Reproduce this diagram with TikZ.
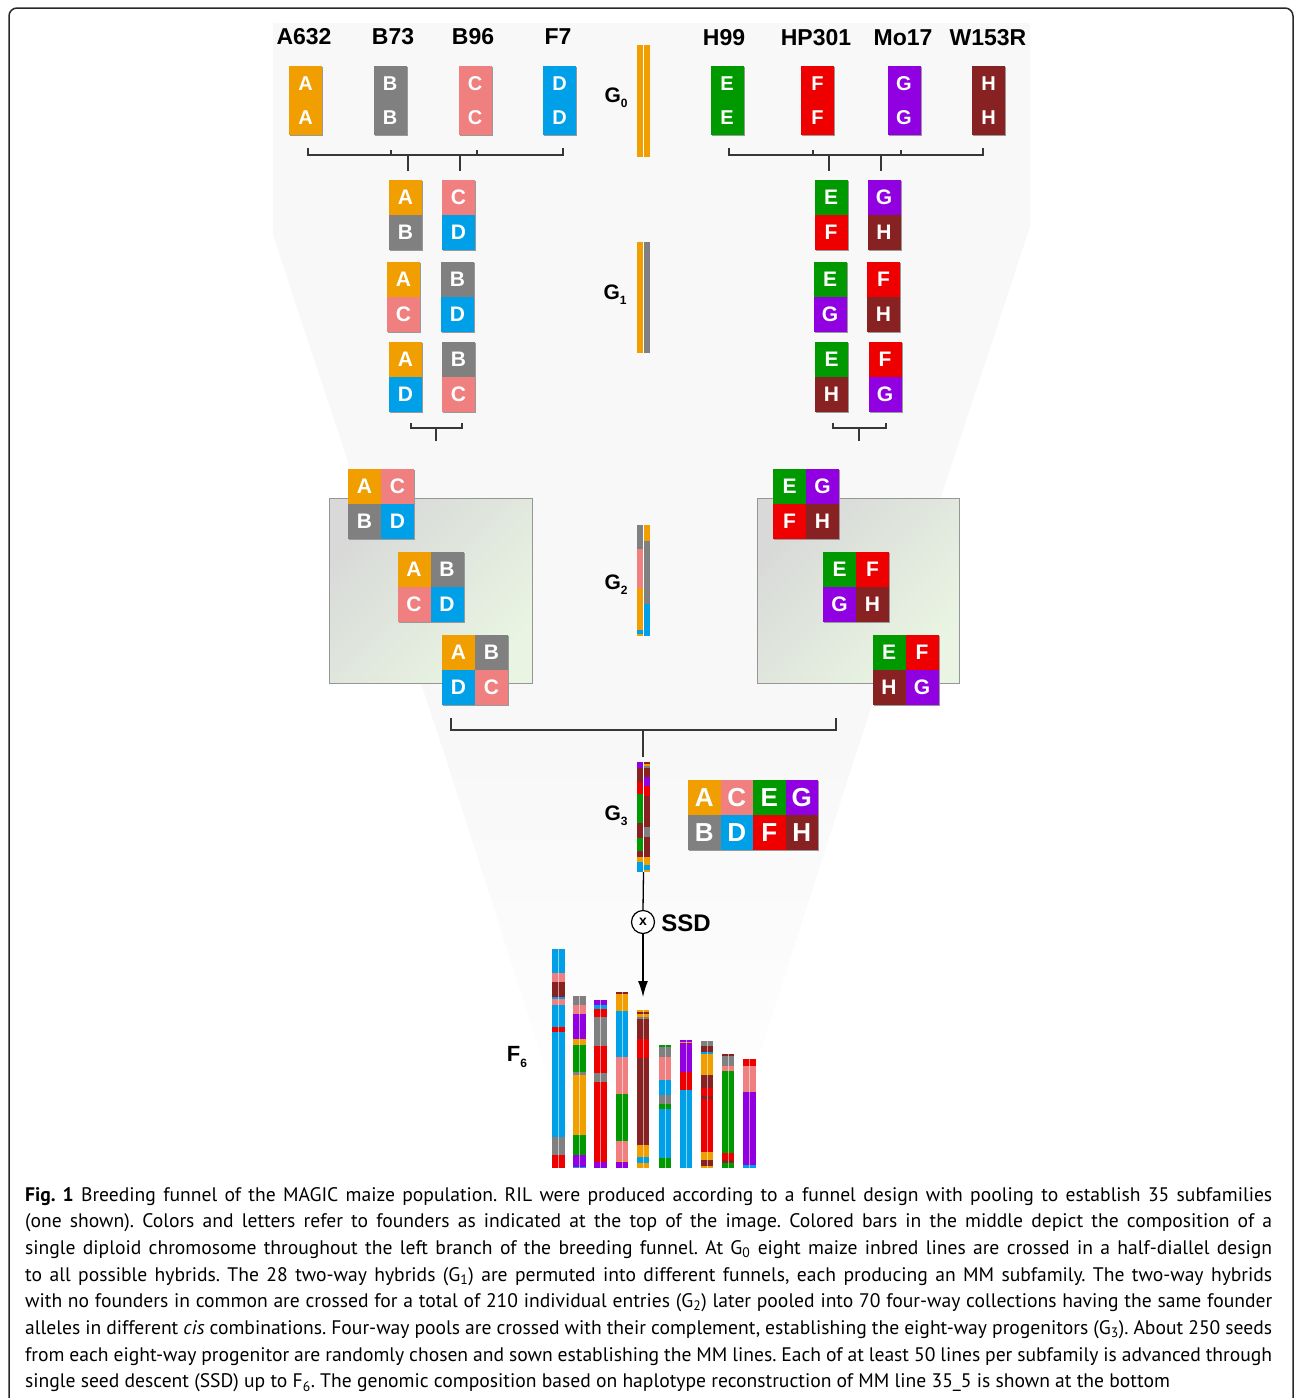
\documentclass[tikz,border=0pt]{standalone}
\usepackage{fontspec}
\usetikzlibrary{shadows,arrows.meta,calc}
\newfontfamily\arialf{Liberation Sans}
\newfontfamily\capf{PT Sans}
\definecolor{cA}{RGB}{240,158,0}
\definecolor{cB}{RGB}{128,128,128}
\definecolor{cC}{RGB}{240,128,128}
\definecolor{cD}{RGB}{0,160,233}
\definecolor{cE}{RGB}{0,153,0}
\definecolor{cF}{RGB}{238,0,0}
\definecolor{cG}{RGB}{145,0,224}
\definecolor{cH}{RGB}{136,34,34}
\definecolor{funnelc}{RGB}{248,248,248}
\definecolor{linec}{RGB}{55,55,55}
\definecolor{g2a}{RGB}{216,217,216}
\definecolor{g2b}{RGB}{233,245,226}
\definecolor{g2border}{RGB}{150,150,150}
\definecolor{framec}{RGB}{40,40,40}
\newcommand\chrom[3]{\foreach \ya/\yb/\cc in {#3} {\fill[\cc] (#1,\ya) rectangle (#2,\yb);}}
\newcommand\sepline[3]{\draw[white, line width=1.1pt] (#1,#2) -- (#1,#3);}
\newcommand\fsep[3]{\draw[white, opacity=0.55, line width=0.8pt] (#1,#2) -- (#1,#3);}
\newcommand\gsub[2]{G\raisebox{-5pt}{\fontsize{12}{12}\selectfont #2}}
\begin{document}
\begin{tikzpicture}[x=1pt,y=-1pt,
  cellbox/.style={rectangle, inner sep=0, minimum width=33, minimum height=35, text=white,
     font=\arialf\bfseries\fontsize{21}{21}\selectfont,
     general shadow={fill=black!40, shadow xshift=1.4pt, shadow yshift=-1.4pt}},
  fcell/.style={cellbox, minimum height=34.5, font=\arialf\bfseries\fontsize{20}{20}\selectfont},
  g3cell/.style={cellbox, minimum width=32.5, font=\arialf\bfseries\fontsize{26}{26}\selectfont},
  lab/.style={font=\arialf\bfseries\fontsize{23}{23}\selectfont, inner sep=0},
  glab/.style={font=\arialf\bfseries\fontsize{21}{21}\selectfont, inner sep=0},
  brk/.style={draw=linec, line width=1.3pt}]
\useasboundingbox (0,0) rectangle (1295,1398);
% frame
\draw[framec, line width=1.5pt, rounded corners=8pt] (9,1400) -- (9,8) -- (1293,8) -- (1293,1400);
% funnel background
\fill[funnelc] (273,23) -- (1030,23) -- (1030,227) -- (857.4,750) -- (443,750) -- (273,235) -- cycle;
\shade[top color=funnelc, bottom color=white] (443,749.5) -- (857.4,749.5) -- (722,1172) -- (578,1172) -- cycle;
% top labels
\node[lab] (lA) at (304,37) {A632};
\node[lab] (lB) at (393,37) {B73};
\node[lab] (lC) at (473,37) {B96};
\node[lab] (lD) at (558,37) {F7};
\node[lab] (lE) at (724,38) {H99};
\node[lab] (lF) at (816,38) {HP301};
\node[lab] (lG) at (903,38) {Mo17};
\node[lab] (lH) at (988,38) {W153R};
% founders
\foreach \n/\x/\c in {A/305.5/cA, B/390/cB, C/475/cC, D/559.5/cD, E/727/cE, F/817.5/cF, G/904/cG, H/988.5/cH}{
  \node[fcell, fill=\c] (\n t) at (\x,83.25) {\n};
  \node[fcell, fill=\c] (\n b) at (\x,117.75) {\n};
}
% G0
\node[glab] (g0) at (616,98) {\gsub{}{0}};
\chrom{637}{650}{45/157/cA}
\sepline{643.5}{45}{157}
% top brackets
\coordinate (bl1) at (308,155); \coordinate (bl2) at (563,155);
\draw[brk] (308,148) -- (bl1) -- (bl2) -- (563,148);
\draw[brk] (391,150) -- (391,155) (477,150) -- (477,155);
\coordinate (sl1) at (408,171); \coordinate (sl2) at (460,171);
\draw[brk] (408,155) -- (sl1) (460,155) -- (sl2);
\coordinate (br1) at (729,155); \coordinate (br2) at (983,155);
\draw[brk] (729,148) -- (br1) -- (br2) -- (983,148);
\draw[brk] (813,150) -- (813,155) (901,150) -- (901,155);
\coordinate (sr1) at (829,171); \coordinate (sr2) at (881,171);
\draw[brk] (829,155) -- (sr1) (881,155) -- (sr2);
% G1
\foreach \n/\x/\y/\a/\ca/\b/\cb in {
  p1/405.5/215/A/cA/B/cB, p2/458.5/215/C/cC/D/cD,
  p3/403.5/297/A/cA/C/cC, p4/457.5/297/B/cB/D/cD,
  p5/405.5/376.5/A/cA/D/cD, p6/458.5/376.5/B/cB/C/cC,
  q1/831/215/E/cE/F/cF, q2/884/215/G/cG/H/cH,
  q3/830/297/E/cE/G/cG, q4/883.5/297/F/cF/H/cH,
  q5/831.5/376.5/E/cE/H/cH, q6/885/376.5/F/cF/G/cG}{
  \node[cellbox, fill=\ca] (\n t) at (\x,\y-17.5) {\a};
  \node[cellbox, fill=\cb] (\n b) at (\x,\y+17.5) {\b};
}
\node[glab] (g1) at (615,295) {\gsub{}{1}};
\chrom{637}{643.5}{242/353/cA}
\chrom{643.5}{650}{242/353/cB}
\sepline{643.5}{242}{353}
% G1 brackets
\coordinate (c1) at (436,441); \coordinate (c2) at (859,441);
\draw[brk] (411,423) -- (411,428) -- (462,428) -- (462,423);
\draw[brk] (436,428) -- (c1);
\draw[brk] (833,423) -- (833,428) -- (886,428) -- (886,423);
\draw[brk] (859,428) -- (c2);
% G2 backgrounds
\shade[top color=g2a, bottom color=g2b, shading angle=45] (329,498) rectangle (532,683);
\draw[g2border, line width=1pt] (329,498) rectangle (532,683);
\shade[top color=g2a, bottom color=g2b, shading angle=45] (757,498) rectangle (959,683);
\draw[g2border, line width=1pt] (757,498) rectangle (959,683);
% G2 squares
\foreach \n/\x/\y/\a/\ca/\b/\cb/\c/\cc/\d/\cd in {
  s1/381/503.5/A/cA/C/cC/B/cB/D/cD,
  s2/430.5/587/A/cA/B/cB/C/cC/D/cD,
  s3/475/669.5/A/cA/B/cB/D/cD/C/cC,
  r1/806/503.5/E/cE/G/cG/F/cF/H/cH,
  r2/856/587/E/cE/F/cF/G/cG/H/cH,
  r3/905.5/669.5/E/cE/F/cF/H/cH/G/cG}{
  \node[cellbox, fill=\ca] (\n a) at (\x-16.5,\y-17.5) {\a};
  \node[cellbox, fill=\cb] (\n b) at (\x+16.5,\y-17.5) {\b};
  \node[cellbox, fill=\cc] (\n c) at (\x-16.5,\y+17.5) {\c};
  \node[cellbox, fill=\cd] (\n d) at (\x+16.5,\y+17.5) {\d};
}
\node[glab] (g2) at (616,585) {\gsub{}{2}};
\chrom{637}{643.5}{525/549/cB, 549/588/cC, 588/630/cA, 630/634/cD, 634/636/cA}
\chrom{643.5}{650}{525/541/cA, 541/604/cB, 604/636/cD}
\sepline{643.5}{525}{636}
% G2 bracket
\coordinate (g2l) at (451,730); \coordinate (g2r) at (836,730);
\draw[brk] (451,718) -- (g2l) -- (g2r) -- (836,718);
% G3
\node[minimum width=13, minimum height=110, inner sep=0] (g3bar) at (643.5,817) {};
\coordinate (g3top) at (643,757);
\draw[brk] (643,730) -- (g3top);
\chrom{637}{643.5}{762/768/cG, 768/782/cH, 782/794/cF, 794/823/cE, 823/838/cH, 838/851/cE, 851/857/cH, 857/862/cA, 862/872/cD}
\chrom{643.5}{650}{762/764/cH, 764/766/cA, 766/768/cB, 768/777/cH, 777/786/cG, 786/796/cF, 796/827/cH, 827/837/cB, 837/857/cH, 857/865/cA, 865/870/cD, 870/872/cA}
\sepline{643.5}{762}{872}
\node[glab] (g3) at (616,816) {\gsub{}{3}};
\foreach \n/\x/\a/\ca/\b/\cb in {k1/704.25/A/cA/B/cB, k2/736.75/C/cC/D/cD, k3/769.25/E/cE/F/cF, k4/801.75/G/cG/H/cH}{
  \node[g3cell, fill=\ca] (\n t) at (\x,797.5) {\a};
  \node[g3cell, fill=\cb] (\n b) at (\x,832.5) {\b};
}
% SSD
\node[circle, draw=black, line width=1.2pt, minimum size=23, inner sep=0, fill=white,
      font=\arialf\bfseries\fontsize{14}{14}\selectfont] (cross) at (643,922) {x};
\node[lab, font=\arialf\bfseries\fontsize{24}{24}\selectfont] (ssd) at (686,923) {SSD};
\coordinate (arrowtip) at (643,997);
\draw[brk, black] (g3bar.south) -- (cross.north);
\draw[brk, black, -{Latex[length=16pt,width=10pt]}] (cross.south) -- (arrowtip);
% F6
\node[glab, font=\arialf\bfseries\fontsize{22}{22}\selectfont] (f6) at (517,1057) {F\raisebox{-6pt}{\fontsize{12}{12}\selectfont 6}};
\chrom{552}{565}{949.3/973.3/cD, 973.3/981.7/cC, 981.7/997.3/cH, 997.3/998.8/cD, 998.8/1005/cC, 1005/1027.3/cD, 1027.3/1031.7/cF, 1031.7/1137.3/cD, 1137.3/1155.3/cB, 1155.3/1168.3/cF}
\chrom{573}{586}{996/1005/cB, 1005/1014/cC, 1014/1039/cG, 1039/1045.3/cA, 1045.3/1071.7/cE, 1071.7/1075/cB, 1075/1135/cA, 1135/1155/cE, 1155/1166.7/cG, 1166.7/1168.3/cD}
\chrom{594}{607}{1000/1005/cG, 1005/1009/cD, 1009/1017.3/cF, 1017.3/1045.7/cB, 1045.7/1073.3/cF, 1073.3/1081.7/cB, 1081.7/1161.7/cF, 1161.7/1168.3/cG}
\chrom{616}{628}{992.3/994.3/cH, 994.3/1010.7/cA, 1010.7/1056.7/cD, 1056.7/1094.3/cC, 1094.3/1140.7/cE, 1140.7/1160.7/cC, 1160.7/1161.7/cA, 1161.7/1168.3/cG}
\chrom{637}{649}{1010/1012/cA, 1012/1014/cH, 1014/1016.7/cA, 1016.7/1019/cB, 1019/1039/cH, 1039/1058.3/cF, 1058.3/1145/cH, 1145/1157.3/cA, 1157.3/1163.3/cD, 1163.3/1168.3/cA}
\chrom{659}{671}{1045.3/1047.3/cE, 1047.3/1056.7/cB, 1056.7/1080/cC, 1080/1095/cD, 1095/1104/cB, 1104/1109/cE, 1109/1158.3/cD, 1158.3/1168.3/cE}
\chrom{680}{692}{1040/1041.7/cG, 1041.7/1043.3/cA, 1043.3/1071.7/cG, 1071.7/1090/cF, 1090/1168.3/cD}
\chrom{701}{713}{1041/1046/cB, 1046/1052.3/cH, 1052.3/1054.3/cD, 1054.3/1075/cA, 1075/1087.7/cH, 1087.7/1095.7/cF, 1095.7/1099.3/cH, 1099.3/1151.7/cF, 1151.7/1160/cA, 1160/1165.7/cH, 1165.7/1168.3/cA}
\chrom{722}{734}{1054.3/1056/cH, 1056/1066/cB, 1066/1070.7/cC, 1070.7/1152.7/cE, 1152.7/1160/cF, 1160/1163.3/cH, 1163.3/1168.3/cE}
\chrom{743}{756}{1059.3/1065.7/cF, 1065.7/1092.3/cC, 1092.3/1165/cG, 1165/1168.3/cD}
\fsep{558.5}{949.3}{1168.3}
\fsep{579.5}{996}{1168.3}
\fsep{600.5}{1000}{1168.3}
\fsep{622}{992.3}{1168.3}
\fsep{643}{1010}{1168.3}
\fsep{665}{1045.3}{1168.3}
\fsep{686}{1040}{1168.3}
\fsep{707}{1041}{1168.3}
\fsep{728}{1054.3}{1168.3}
\fsep{749.5}{1059.3}{1168.3}
% caption
\node[anchor=base west, inner sep=0] (cap) at (25,1201) {\parbox[t]{1247pt}{\capf\frenchspacing\fontsize{19.6}{26.7}\selectfont
\makebox[1247pt][s]{\textbf{Fig. 1} Breeding funnel of the MAGIC maize population. RIL were produced according to a funnel design with pooling to establish 35 subfamilies}\\
\makebox[1247pt][s]{(one shown). Colors and letters refer to founders as indicated at the top of the image. Colored bars in the middle depict the composition of a}\\
\makebox[1247pt][s]{single diploid chromosome throughout the left branch of the breeding funnel. At G\textsubscript{0} eight maize inbred lines are crossed in a half-diallel design}\\
\makebox[1247pt][s]{to all possible hybrids. The 28 two-way hybrids (G\textsubscript{1}) are permuted into different funnels, each producing an MM subfamily. The two-way hybrids}\\
\makebox[1247pt][s]{with no founders in common are crossed for a total of 210 individual entries (G\textsubscript{2}) later pooled into 70 four-way collections having the same founder}\\
\makebox[1247pt][s]{alleles in different \textit{cis} combinations. Four-way pools are crossed with their complement, establishing the eight-way progenitors (G\textsubscript{3}). About 250 seeds}\\
\makebox[1247pt][s]{from each eight-way progenitor are randomly chosen and sown establishing the MM lines. Each of at least 50 lines per subfamily is advanced through}\\
\makebox[1247pt][l]{single seed descent (SSD) up to F\textsubscript{6}. The genomic composition based on haplotype reconstruction of MM line 35\_5 is shown at the bottom}}};
\end{tikzpicture}
\end{document}
